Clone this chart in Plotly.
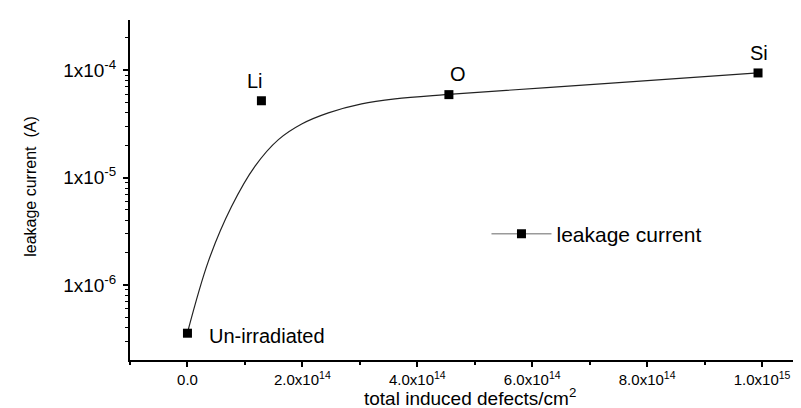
import math
import plotly.graph_objects as go

# ---- data ----
sample_names = ["Un-irradiated", "Li", "O", "Si"]
defects = [0.0, 1.287e14, 4.55e14, 9.93e14]          # total induced defects / cm^2
leakage = [3.56e-7, 5.2e-5, 5.93e-5, 9.44e-5]          # leakage current (A)

# fitted curve, points
fit_x = [0.0, 3.65e13, 7.65e13, 1.177e14, 1.583e14, 1.988e14, 2.452e14,
         3.031e14, 3.612e14, 4.482e14, 7.32e14, 9.93e14]
fit_y = [3.60e-7, 1.67e-6, 5.35e-6, 1.28e-5, 2.26e-5, 3.16e-5, 4.01e-5,
         4.86e-5, 5.41e-5, 5.93e-5, 7.55e-5, 9.44e-5]

x_tickvals = [0.0, 2e14, 4e14, 6e14, 8e14, 1e15]
x_ticktext = ["0.0", "2.0x10<sup>14</sup>", "4.0x10<sup>14</sup>",
              "6.0x10<sup>14</sup>", "8.0x10<sup>14</sup>", "1.0x10<sup>15</sup>"]
y_tickvals = [1e-6, 1e-5, 1e-4]
y_ticktext = ["1x10<sup>-6</sup>", "1x10<sup>-5</sup>", "1x10<sup>-4</sup>"]

x_title = "total induced defects/cm<sup>2</sup>"
y_title = "leakage current  (A)"

# label offsets (px) for point annotations
label_shift = {"Un-irradiated": (20, -3, "left"), "Li": (-6, 20, "center"),
               "O": (9, 21, "center"), "Si": (1, 20, "center")}

FONT = "Liberation Sans, Arial, sans-serif"

fig = go.Figure()
fig.add_trace(go.Scatter(x=fit_x, y=fit_y, mode="lines",
                         line=dict(color="#222222", width=1.2, shape="spline", smoothing=1.0),
                         showlegend=False, hoverinfo="skip"))
fig.add_trace(go.Scatter(x=defects, y=leakage, mode="markers",
                         marker=dict(symbol="square", size=9, color="black"),
                         showlegend=False))
fig.add_trace(go.Scatter(x=[None], y=[None], mode="lines+markers",
                         name="leakage current",
                         line=dict(color="#9a9a9a", width=1.5),
                         marker=dict(symbol="square", size=9, color="black")))

for name, xv, yv in zip(sample_names, defects, leakage):
    dx, dy, anchor = label_shift[name]
    fig.add_annotation(x=xv, y=math.log10(yv), xref="x", yref="y", text=name,
                       showarrow=False, xshift=dx, yshift=dy, xanchor=anchor,
                       yanchor="middle", font=dict(family=FONT, size=20, color="black"))

# axis titles placed as in the original
fig.add_annotation(x=0.5, y=-0.109, xref="x domain", yref="y domain", text=x_title,
                   showarrow=False, xanchor="center", yanchor="middle", borderpad=0,
                   font=dict(family=FONT, size=19, color="black"))
fig.add_annotation(x=-0.147, y=0.51, xref="x domain", yref="y domain", text=y_title,
                   showarrow=False, xanchor="center", yanchor="middle", textangle=-90,
                   font=dict(family=FONT, size=16, color="black"))

y_minor = [k * 10.0 ** e for e in range(-7, -3) for k in range(2, 10)]
x_minor = [-1e14, 1e14, 3e14, 5e14, 7e14, 9e14]

fig.update_layout(
    width=801, height=408,
    margin=dict(l=122, r=0, t=12, b=56, autoexpand=False),
    paper_bgcolor="white", plot_bgcolor="white",
    font=dict(family=FONT, color="black"),
    showlegend=True,
    legend=dict(x=0.525, y=0.37, xanchor="left", yanchor="middle",
                bgcolor="rgba(0,0,0,0)", font=dict(family=FONT, size=21),
                itemwidth=60),
    xaxis=dict(range=[-1e14, 1.0817e15], showline=True, linecolor="black", linewidth=2,
               showgrid=False, zeroline=False, ticks="outside", ticklen=5, tickwidth=1.5,
               tickcolor="black", tickvals=x_tickvals, ticktext=x_ticktext,
               tickfont=dict(family=FONT, size=15),
               minor=dict(tickvals=x_minor, ticks="outside", ticklen=3, tickwidth=1.5,
                          tickcolor="black", showgrid=False)),
    yaxis=dict(type="log", range=[-6.698, -3.532], showline=True, linecolor="black",
               linewidth=2, showgrid=False, zeroline=False, ticks="outside", ticklen=5,
               tickwidth=1.5, tickcolor="black", tickvals=y_tickvals, ticktext=y_ticktext,
               tickfont=dict(family=FONT, size=19), ticklabelstandoff=3,
               minor=dict(tickvals=y_minor, ticks="outside", ticklen=3, tickwidth=1,
                          tickcolor="black", showgrid=False)),
)

fig.write_html("out.html")
